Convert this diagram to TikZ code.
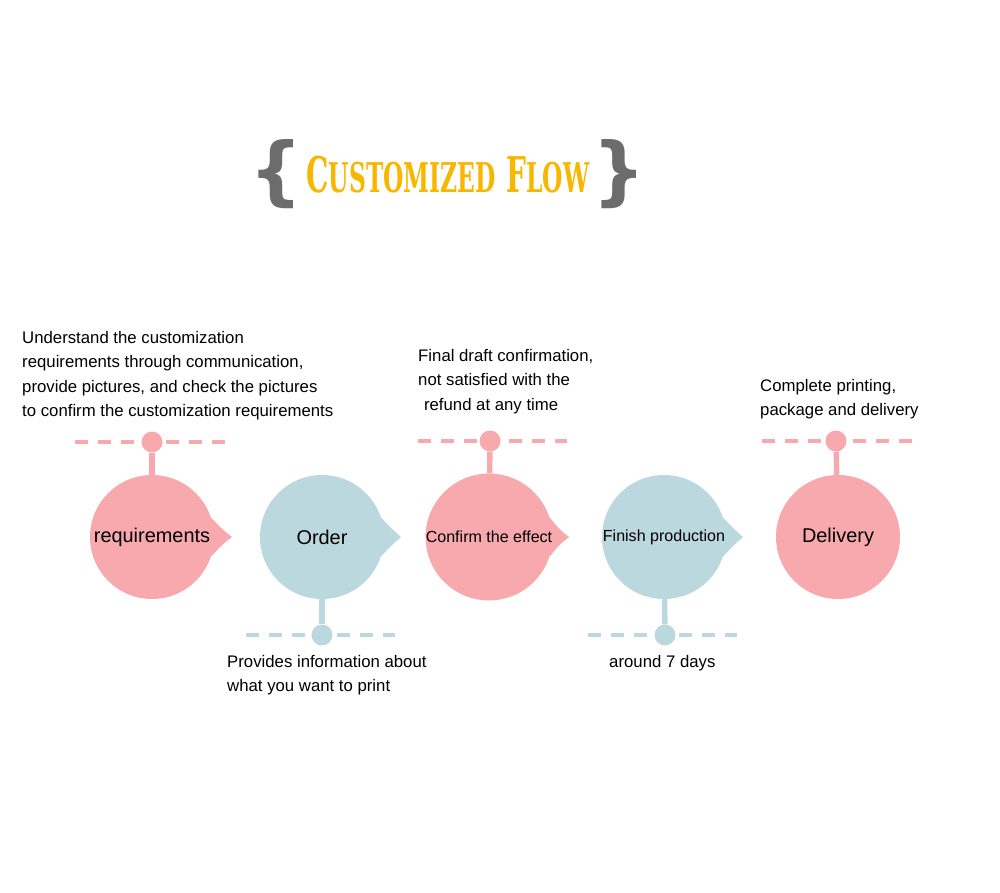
\documentclass[tikz,border=0pt]{standalone}
\usepackage{graphicx}
\usepackage{fontspec}
\setmainfont{Liberation Sans}
\newfontfamily\titlefont{DejaVu Serif}
\newfontfamily\bracefont{DejaVu Sans}
\usepackage{tikz}
\usetikzlibrary{positioning, calc, backgrounds}
\usepackage{xcolor}
\definecolor{stagepink}{RGB}{247,169,173}
\definecolor{stageblue}{RGB}{188,216,223}
\definecolor{titleyellow}{RGB}{247,183,0}
\definecolor{bracegray}{RGB}{108,108,108}

\begin{document}
\begin{tikzpicture}[
    x=0.03cm, y=-0.03cm,
    stage/.style={circle, fill=#1, minimum size=3.72cm, inner sep=0pt, font=\fontsize{17}{20}\selectfont},
    pin/.style={circle, fill=#1, minimum size=0.63cm, inner sep=0pt},
    stem/.style={draw=#1, line width=4.6pt},
    guide/.style={draw=#1, line width=3.2pt, dash pattern=on 11pt off 8.5pt},
    caption/.style={align=left, inner sep=0pt, anchor=north west, font=\fontsize{14.3}{20.9}\selectfont},
    brace/.style={inner sep=0pt, font=\bracefont\bfseries\fontsize{64}{64}\selectfont, text=bracegray},
]
    \useasboundingbox (0,0) rectangle (1000,893);

    % Title
    \node[brace] (lbrace) at (276,174) {\{};
    \node[brace] (rbrace) at (619,174) {\}};
    \node[font=\titlefont\bfseries, text=titleyellow, inner sep=0pt] (title) at (448,175)
        {\scalebox{0.57}[1]{{\fontsize{42}{42}\selectfont C}{\fontsize{35}{35}\selectfont USTOMIZED}\hspace{16pt}{\fontsize{42}{42}\selectfont F}{\fontsize{35}{35}\selectfont LOW}}};

    % Stages
    \node[stage=stagepink] (req) at (152,537) {requirements};
    \node[stage=stageblue] (order) at (322,537) {Order};
    \node[stage=stagepink, font=\fontsize{13.7}{16}\selectfont] (confirm) at (489,537) {Confirm the effect};
    \node[stage=stageblue, font=\fontsize{13.7}{16}\selectfont] (finish) at (664,537) {Finish production};
    \node[stage=stagepink] (deliv) at (838,537) {Delivery};

    % Pins above and below
    \node[pin=stagepink] (reqpin) at (152,442) {};
    \node[pin=stageblue] (orderpin) at (322,635) {};
    \node[pin=stagepink] (confpin) at (490,441) {};
    \node[pin=stageblue] (finpin) at (665,635) {};
    \node[pin=stagepink] (delpin) at (836,441) {};

    \begin{scope}[on background layer]
        % Pointed tips
        \fill[stagepink] (req.18) .. controls ($(req.center)+(71,-7)$) .. ($(req.center)+(80,0)$)
            .. controls ($(req.center)+(71,7)$) .. (req.-18) -- cycle;
        \fill[stageblue] (order.18) .. controls ($(order.center)+(71,-7)$) .. ($(order.center)+(79,0)$)
            .. controls ($(order.center)+(71,7)$) .. (order.-18) -- cycle;
        \fill[stagepink] (confirm.18) .. controls ($(confirm.center)+(71,-7)$) .. ($(confirm.center)+(80,0)$)
            .. controls ($(confirm.center)+(71,7)$) .. (confirm.-18) -- cycle;
        \fill[stageblue] (finish.18) .. controls ($(finish.center)+(71,-7)$) .. ($(finish.center)+(79,0)$)
            .. controls ($(finish.center)+(71,7)$) .. (finish.-18) -- cycle;

        % Dashed guides
        \draw[guide=stagepink] ($(reqpin)+(-77,0)$) -- ($(reqpin)+(73,0)$);
        \draw[guide=stageblue] ($(orderpin)+(-76,0)$) -- ($(orderpin)+(73,0)$);
        \draw[guide=stagepink] ($(confpin)+(-72,0)$) -- ($(confpin)+(77,0)$);
        \draw[guide=stageblue] ($(finpin)+(-77,0)$) -- ($(finpin)+(72,0)$);
        \draw[guide=stagepink] ($(delpin)+(-74,0)$) -- ($(delpin)+(76,0)$);
    \end{scope}

    % Stems
    \draw[stem=stagepink] (reqpin) -- (req);
    \draw[stem=stageblue] (orderpin) -- (order);
    \draw[stem=stagepink] (confpin) -- (confirm);
    \draw[stem=stageblue] (finpin) -- (finish);
    \draw[stem=stagepink] (delpin) -- (deliv);

    % Notes
    \node[caption] (reqnote) at (22,331) {Understand the customization\\requirements through communication,\\provide pictures, and check the pictures\\to confirm the customization requirements};
    \node[caption] (confnote) at (418,349) {Final draft confirmation,\\not satisfied with the\\\hspace*{5pt}refund at any time};
    \node[caption] (delnote) at (760,379) {Complete printing,\\package and delivery};
    \node[caption] (ordernote) at (227,655) {Provides information about\\what you want to print};
    \node[caption] (finnote) at (609,655) {around 7 days};
\end{tikzpicture}
\end{document}
